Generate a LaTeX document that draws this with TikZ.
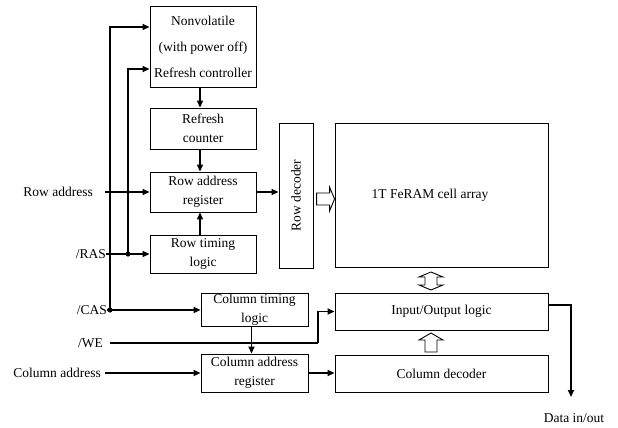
\documentclass[tikz,border=0pt]{standalone}
\usepackage{fontspec}
\setmainfont{Liberation Serif}
\usetikzlibrary{arrows.meta}

\begin{document}
\begin{tikzpicture}[
		x=1pt, y=-1pt,
		every node/.style={font=\fontsize{13.5}{19}\selectfont},
		box/.style={draw, line width=0.9pt, inner sep=0pt, align=center},
		lbl/.style={inner sep=0pt},
		wire/.style={line width=1.6pt},
		sig/.style={wire, -{Triangle[length=7pt, width=6pt]}},
		hollow/.style={draw, line width=0.9pt, fill=white, line join=miter}
	]
  \useasboundingbox (0,0) rectangle (618,428);
  % blocks
  \node (nv) [box, minimum width=106pt, minimum height=81pt] at (203,46.5) {Nonvolatile\\[7pt](with power off)\\[7pt]Refresh controller};
  \node (rcnt) [box, minimum width=106pt, minimum height=41pt] at (203,128.5) {Refresh\\counter};
  \node (rar) [box, minimum width=106pt, minimum height=40pt] at (203,192) {Row address\\register};
  \node (rtl) [box, minimum width=106pt, minimum height=38pt] at (203,254) {Row timing\\logic};
  \node (rdec) [box, minimum width=145pt, minimum height=34pt, rotate=90] at (296,195.5) {Row decoder};
  \node (arr) [box, minimum width=213pt, minimum height=144pt] at (441.5,195) {};
  \node (arrlbl) [lbl] at (430,195) {1T FeRAM cell array};
  \node (io) [box, minimum width=213pt, minimum height=37pt] at (441.5,311.5) {Input/Output logic};
  \node (cdec) [box, minimum width=213pt, minimum height=37pt] at (441.5,373.5) {Column decoder};
  \node (ctl) [box, minimum width=107pt, minimum height=33pt] at (254.5,310) {Column timing\\logic};
  \node (car) [box, minimum width=107pt, minimum height=38pt] at (254.5,373) {Column address\\register};
  % inputs and output
  \node (lra) [lbl, anchor=east] at (93,192) {Row address};
  \node (lras) [lbl, anchor=east] at (106,254) {/RAS};
  \node (lcas) [lbl, anchor=east] at (107,310) {/CAS};
  \node (lwe) [lbl, anchor=east] at (103,343) {/WE};
  \node (lcad) [lbl, anchor=east] at (101,373) {Column address};
  \node (dout) [lbl] at (574,418) {Data in/out};
  \coordinate (casj) at (110,310);
  \coordinate (rasj) at (128,254);
  \coordinate (wejog) at (318,343);
  \coordinate (dend) at (571,397);
  % connections
  \draw[sig] (casj) |- ([yshift=19.5pt]nv.west);
  \draw[sig] (rasj) |- ([yshift=-22.5pt]nv.west);
  \draw[sig] ([xshift=12pt]lra.east) -- (rar.west);
  \draw[sig] (lras.east) -- (rtl.west);
  \draw[sig] (lcas.east) -- (ctl.west);
  \fill (rasj) circle (2.6pt);
  \fill (casj) circle (2.6pt);
  \draw[wire] (lwe.east -| casj) -- (wejog);
  \draw[sig] (wejog) |- (io.west);
  \draw[sig] ([xshift=4pt]lcad.east) -- (car.west);
  \draw[sig] ([xshift=-3pt]nv.south) -- ([xshift=-3pt]rcnt.north);
  \draw[sig] ([xshift=-3pt]rcnt.south) -- ([xshift=-3pt]rar.north);
  \draw[sig] ([xshift=-3pt]rtl.north) -- ([xshift=-3pt]rar.south);
  \draw[sig] (rar.east) -- (rar.east -| rdec.north);
  \draw[sig] ([xshift=-3pt]ctl.south) -- ([xshift=-3pt]car.north);
  \draw[sig] (car.east) -- (car.east -| cdec.west);
  \draw[sig] ([yshift=6.5pt]io.east) -| (dend);
  % hollow bus arrows
  \draw[hollow, shift={(arr.west)}] (-18,-2) -- (-5,-2) -- (-5,-8) -- (0,4) -- (-5,16) -- (-5,10) -- (-18,10) -- cycle;
  \draw[hollow, shift={(431,281)}] (0,-9) -- (12,-4) -- (6,-4) -- (6,4) -- (12,4) -- (0,9) -- (-12,4) -- (-6,4) -- (-6,-4) -- (-12,-4) -- cycle;
  \draw[hollow, shift={(431,333)}] (0,0) -- (12,7) -- (6,7) -- (6,19) -- (-6,19) -- (-6,7) -- (-12,7) -- cycle;
\end{tikzpicture}
\end{document}
